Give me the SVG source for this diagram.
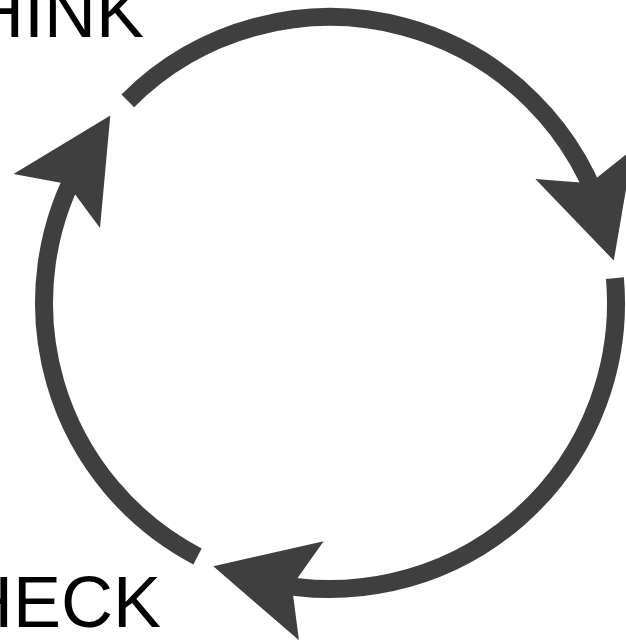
<svg xmlns="http://www.w3.org/2000/svg" xmlns:xlink="http://www.w3.org/1999/xlink" width="626" height="642" viewBox="0 0 626 642">
  <style>
    .arc { fill: none; stroke: #3f3f3f; stroke-width: 18; stroke-linecap: butt; }
    .head { fill: #3f3f3f; }
    .label { font-family: "Liberation Sans", Arial, sans-serif; font-size: 72px; fill: #000000; }
  </style>
  <defs>
    <path id="arrowhead" class="head" d="M0,0 L-101,-51 L-81,0 L-101,51 Z"/>
  </defs>
  <rect width="626" height="642" fill="#ffffff"/>
  <g id="connectors">
    <path class="arc" d="M127.8,100.8 A286,286 0 0 1 606.3,229.0"/>
    <path class="arc" d="M614.9,278.1 A286,286 0 0 1 265.7,581.7"/>
    <path class="arc" d="M197.5,556.4 A286,286 0 0 1 82.3,160"/>
    <use xlink:href="#arrowhead" transform="translate(613.8,260.6) rotate(72.9)"/>
    <use xlink:href="#arrowhead" transform="translate(213.3,566.3) rotate(194)"/>
    <use xlink:href="#arrowhead" transform="translate(110.3,115.4) rotate(-58)"/>
  </g>
  <g id="think">
    <text class="label" x="144" y="37" text-anchor="end">HINK</text>
  </g>
  <g id="check">
    <text class="label" x="161" y="627" text-anchor="end">HECK</text>
  </g>
</svg>
